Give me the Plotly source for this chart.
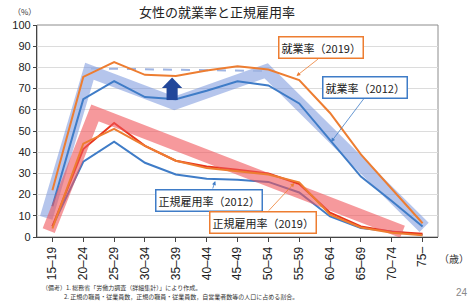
import plotly.graph_objects as go

# ---- data ----
age_groups = ["15–19", "20–24", "25–29", "30–34", "35–39", "40–44", "45–49",
              "50–54", "55–59", "60–64", "65–69", "70–74", "75–"]
emp_2019 = [22, 75.5, 82.5, 76.5, 76, 78.5, 80.5, 79, 74, 58.5, 39, 23, 6.5]
emp_2012 = [14.5, 65, 73.5, 66, 65, 69, 73.5, 71.5, 63, 46, 28.5, 17, 5]
reg_2012 = [5, 35.5, 45, 35, 29.5, 27.5, 27, 26, 21, 9.7, 4.2, 2.5, 1]
reg_2019 = [4, 44, 51, 43, 36, 32.5, 31, 29.5, 25.8, 10.5, 4.5, 2, 0.8]
reg_line_red = [5, 41.5, 53.8, 43, 36, 33.3, 31.7, 30, 25, 11.5, 5, 2.5, 1.5]

# highlight bands (category index, value)
band_emp_x = [-0.2, 1.2, 3.95, 6.93, 12.05]
band_emp_y = [9, 78.2, 63, 78.4, 4.5]
band_reg_x = [-0.12, 1.38, 11.35]
band_reg_y = [3, 58.5, 2.5]
dash_x = [1.25, 6.9]
dash_y = [79.5, 78.3]

ORANGE = "#ed7d31"
BLUE = "#3f7cc7"
RED = "#e8341c"
ARROW = "#22479a"

W, H = 474, 303
L, R, T, B = 33, 36, 25, 66
PW, PH = W - L - R, H - T - B


def px(x):
    return (x - L) / PW


def py(y):
    return (H - B - y) / PH


idx = list(range(len(age_groups)))
fig = go.Figure()

fig.add_trace(go.Scatter(x=band_emp_x, y=band_emp_y, mode="lines",
                         line=dict(color="rgba(120,150,220,0.55)", width=13),
                         hoverinfo="skip"))
fig.add_trace(go.Scatter(x=dash_x, y=dash_y, mode="lines",
                         line=dict(color="#9fb4e2", width=2, dash="dash"),
                         hoverinfo="skip"))
fig.add_trace(go.Scatter(x=idx, y=emp_2012, mode="lines",
                         line=dict(color=BLUE, width=2)))
fig.add_trace(go.Scatter(x=idx, y=emp_2019, mode="lines",
                         line=dict(color=ORANGE, width=2)))
fig.add_trace(go.Scatter(x=idx, y=reg_2012, mode="lines",
                         line=dict(color=BLUE, width=2)))
fig.add_trace(go.Scatter(x=idx, y=reg_line_red, mode="lines",
                         line=dict(color=RED, width=2)))
fig.add_trace(go.Scatter(x=band_reg_x, y=band_reg_y, mode="lines",
                         line=dict(color="rgba(240,85,90,0.6)", width=13),
                         hoverinfo="skip"))
fig.add_trace(go.Scatter(x=idx, y=reg_2019, mode="lines",
                         line=dict(color=ORANGE, width=2)))

# big up arrow (decoration): shaft + head
ax_c, shaft_hw, head_hw = 3.88, 0.18, 0.33
fig.add_shape(type="rect", xref="x", yref="y", x0=ax_c - shaft_hw, x1=ax_c + shaft_hw,
              y0=64.6, y1=70.6, fillcolor=ARROW, line=dict(width=0), layer="above")
fig.add_shape(type="path", xref="x", yref="y",
              path=f"M {ax_c - head_hw},70.3 L {ax_c + head_hw},70.3 L {ax_c},75.2 Z",
              fillcolor=ARROW, line=dict(width=0), layer="above")

FONT = "Noto Sans CJK JP"


def text_at(text, x, y, size, color="#222", family=FONT, xanchor="center"):
    fig.add_annotation(x=px(x), y=py(y), xref="paper", yref="paper",
                       xanchor=xanchor, yanchor="middle", text=text,
                       showarrow=False,
                       font=dict(family=family, size=size, color=color))


def label_box(text, color, bx, by, tipx, tipy, tailx, taily):
    fig.add_annotation(x=px(tipx), y=py(tipy), ax=tailx - tipx, ay=taily - tipy,
                       xref="paper", yref="paper", axref="pixel", ayref="pixel",
                       text="", showarrow=True, arrowhead=2, arrowsize=1,
                       arrowwidth=0.8, arrowcolor=color)
    fig.add_annotation(x=px(bx), y=py(by), xref="paper", yref="paper",
                       xanchor="center", yanchor="middle",
                       text=text, showarrow=False, bgcolor="white",
                       bordercolor=color, borderwidth=1.5, borderpad=2,
                       font=dict(family=FONT, size=11, color="#222"))


label_box("就業率（2019）", ORANGE, 320, 47.5, 295, 76, 318, 58)
label_box("就業率（2012）", BLUE, 364, 87, 330, 142, 364, 97)
label_box("正規雇用率（2012）", BLUE, 207, 200, 213, 181, 210, 190)
label_box("正規雇用率（2019）", ORANGE, 261, 222.5, 293, 183, 266, 212)

# frame (gray top/right)
fig.add_shape(type="rect", xref="paper", yref="paper", x0=0, y0=0, x1=1, y1=1,
              line=dict(color="#8c8c8c", width=1), layer="below")

text_at("女性の就業率と正規雇用率", 215, 12, 13)
text_at("（%）", 20, 12, 8, "#333")
text_at("（歳）", 454, 258, 10, "#333")
text_at("24", 462, 292, 10, "#888", "Liberation Sans")
text_at("（備考）1. 総務省「労働力調査（詳細集計）」により作成。", 36, 287, 6,
        "#333", xanchor="left")
text_at("2. 正規の職員・従業員数，正規の職員・従業員数，自営業者数等の人口に占める割合。",
        58, 296, 6, "#333", xanchor="left")

fig.update_layout(
    width=W, height=H, margin=dict(l=L, r=R, t=T, b=B),
    paper_bgcolor="white", plot_bgcolor="white", showlegend=False,
    xaxis=dict(range=[-0.5, 12.5], tickvals=idx, ticktext=age_groups,
               tickangle=-90, showgrid=False, zeroline=False,
               showline=True, linecolor="#444", linewidth=1.2,
               ticks="outside", ticklen=4, tickcolor="#444",
               tickfont=dict(family="Liberation Sans", size=12, color="#222")),
    yaxis=dict(range=[0, 100], dtick=10, showgrid=True, gridcolor="#dcdcdc",
               zeroline=False, showline=True, linecolor="#444", linewidth=1.2,
               ticks="outside", ticklen=3, tickcolor="#444",
               tickfont=dict(family="Liberation Sans", size=11, color="#222")),
)

fig.write_html("out.html")
